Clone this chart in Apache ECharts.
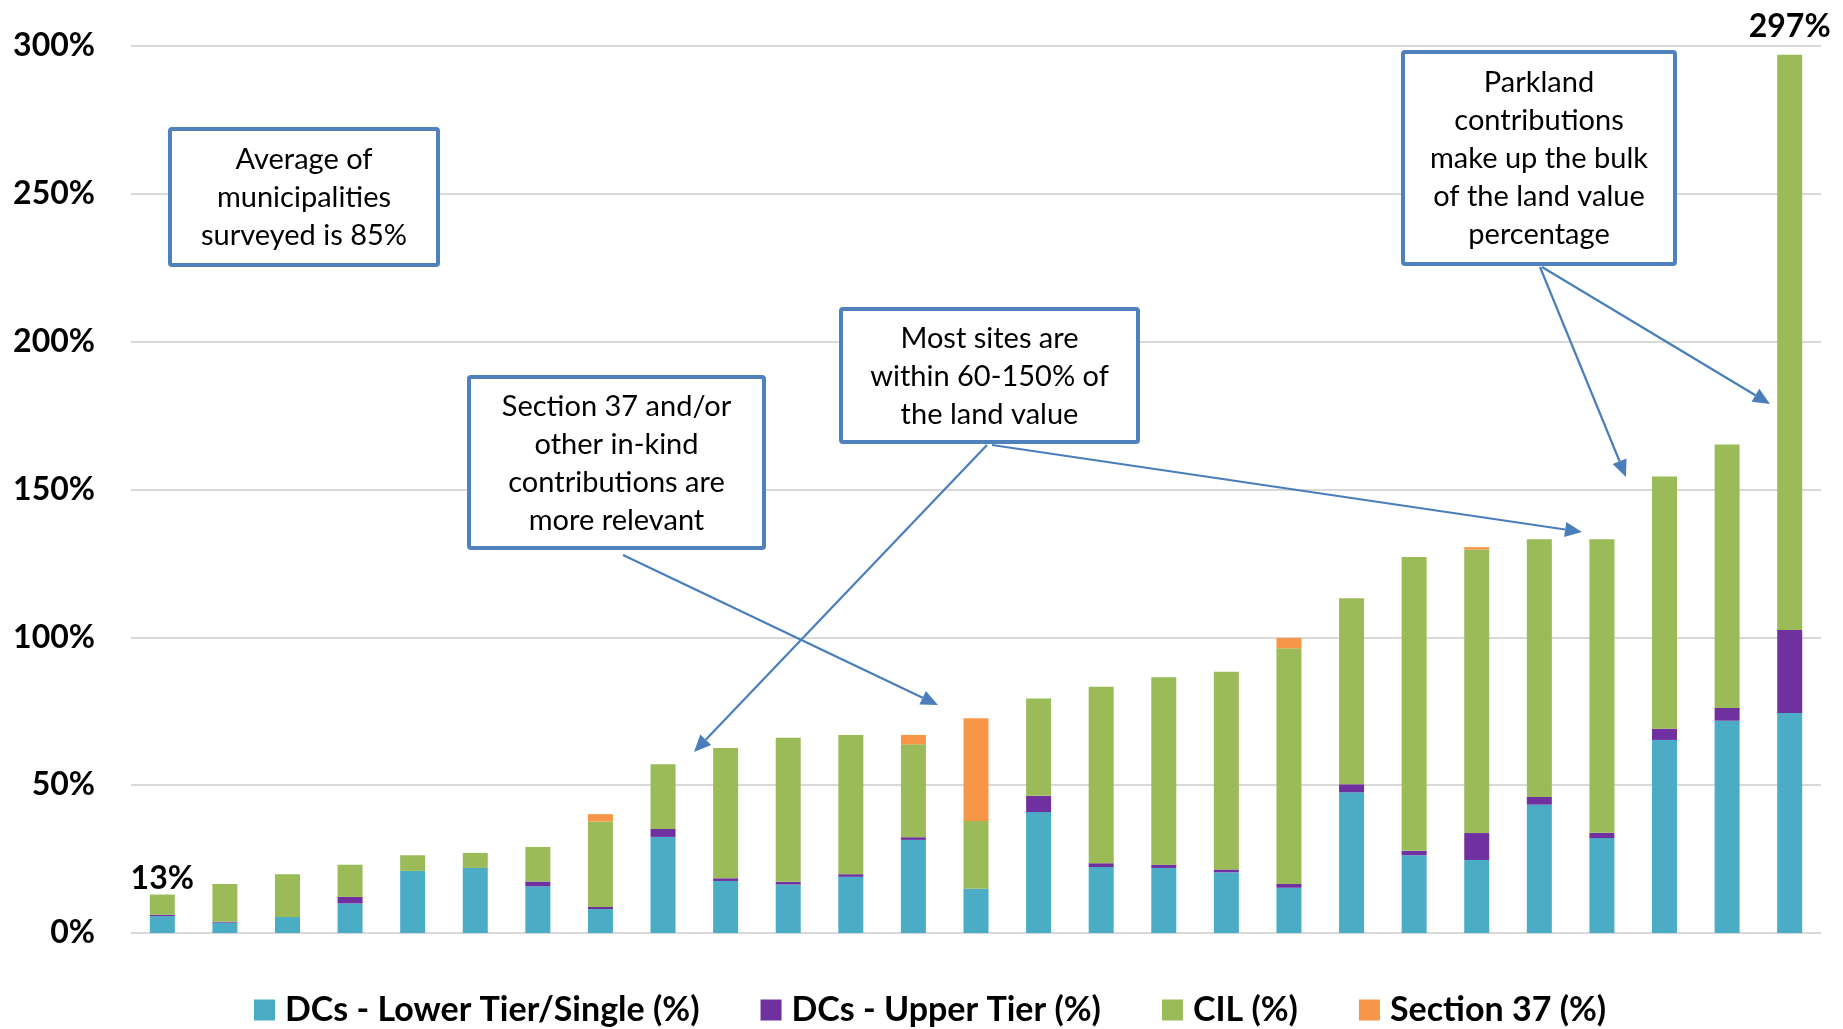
<!DOCTYPE html>
<html>
<head>
<meta charset="utf-8">
<script src="https://cdn.jsdelivr.net/npm/echarts@6/dist/echarts.min.js"></script>
<style>
html, body { margin: 0; padding: 0; background: #fff; }
#chart { width: 1843px; height: 1029px; }
</style>
</head>
<body>
<div id="chart"></div>
<script>
// Sites, sorted by total charges as a share of land value
const sites = ['1','2','3','4','5','6','7','8','9','10','11','12','13','14','15','16','17','18','19','20','21','22','23','24','25','26','27'];

// Component shares of land value (%)
const dcLower   = [5.7, 3.5, 5.4, 10.0, 21.0, 22.0, 15.8, 8.1, 32.5, 17.6, 16.4, 19.0, 31.5, 15.0, 40.9, 22.3, 22.0, 20.5, 15.3, 47.6, 26.3, 24.7, 43.4, 32.1, 65.3, 71.8, 74.4];
const dcUpper   = [0.5, 0.3, 0, 2.2, 0, 0, 1.6, 0.7, 2.7, 0.9, 0.9, 0.9, 0.9, 0, 5.5, 1.3, 1.1, 1.0, 1.3, 2.7, 1.5, 9.1, 2.6, 1.8, 3.8, 4.3, 28.1];
const cil       = [6.8, 12.8, 14.5, 10.9, 5.3, 5.1, 11.7, 28.9, 21.9, 44.1, 48.7, 47.1, 31.4, 22.9, 32.9, 59.7, 63.4, 66.9, 79.7, 62.9, 99.4, 95.9, 87.2, 99.3, 85.3, 89.1, 194.5];
const section37 = [0, 0, 0, 0, 0, 0, 0, 2.5, 0, 0, 0, 0, 3.2, 34.7, 0, 0, 0, 0, 3.5, 0, 0, 0.8, 0, 0, 0, 0, 0];

const seriesNames = ['DCs - Lower Tier/Single (%)', 'DCs - Upper Tier (%)', 'CIL (%)', 'Section 37 (%)'];
const colors = ['#4BACC6', '#7030A0', '#9BBB59', '#F79646'];

// Y axis ticks
const yMin = 0, yMax = 300, yStep = 50;

// Callout boxes: [left, top, width, height, lines]
const callouts = [
  [170, 129, 268, 136, ['Average of', 'municipalities', 'surveyed is 85%']],
  [469, 377, 295, 171, ['Section 37 and/or', 'other in-kind', 'contributions are', 'more relevant']],
  [841, 309, 297, 133, ['Most sites are', 'within 60-150% of', 'the land value']],
  [1403, 52, 272, 212, ['Parkland', 'contributions', 'make up the bulk', 'of the land value', 'percentage']]
];
// Callout arrows: [x1, y1, x2, y2]
const arrows = [
  [623, 555, 938, 705],
  [987, 445, 694, 752],
  [992, 445, 1582, 532],
  [1540, 267, 1626, 477],
  [1542, 267, 1770, 404]
];

const FONT = 'Lato, "Open Sans", sans-serif';
const totals = sites.map((_, i) => dcLower[i] + dcUpper[i] + cil[i] + section37[i]);
// Total labels shown on the first and last sites (value = label distance)
const totalLabelAt = { 0: 0, 26: 12 };

const chart = echarts.init(document.getElementById('chart'), null, { renderer: 'canvas' });

const stackData = [dcLower, dcUpper, cil, section37];
const series = stackData.map((arr, s) => ({
  name: seriesNames[s],
  type: 'bar',
  stack: 'total',
  barWidth: 25,
  itemStyle: { color: colors[s] },
  emphasis: { disabled: true },
  data: arr.map((v, i) => {
    if (s === 2 && (i in totalLabelAt)) {
      return {
        value: v,
        label: {
          show: true,
          position: 'top',
          distance: totalLabelAt[i],
          formatter: () => Math.round(totals[i]) + '%',
          fontFamily: FONT,
          fontWeight: 'bold',
          fontSize: 32,
          color: '#000'
        }
      };
    }
    return v;
  })
}));

const graphics = [];
arrows.forEach(([x1, y1, x2, y2]) => {
  const ang = Math.atan2(y2 - y1, x2 - x1);
  const L = 17, W = 7.5;
  const bx = x2 - L * Math.cos(ang), by = y2 - L * Math.sin(ang);
  graphics.push({
    type: 'line', z: 90,
    shape: { x1: x1, y1: y1, x2: bx, y2: by },
    style: { stroke: '#4A7EBB', lineWidth: 2.2 }
  });
  graphics.push({
    type: 'polygon', z: 90,
    shape: { points: [[x2, y2], [bx + W * Math.sin(ang), by - W * Math.cos(ang)], [bx - W * Math.sin(ang), by + W * Math.cos(ang)]] },
    style: { fill: '#4A7EBB' }
  });
});
callouts.forEach(([x, y, w, h, lines]) => {
  graphics.push({
    type: 'rect', z: 100,
    shape: { x: x, y: y, width: w, height: h, r: 2 },
    style: { fill: '#fff', stroke: '#4F81BD', lineWidth: 4 }
  });
  graphics.push({
    type: 'text', z: 101,
    style: {
      text: lines.join('\n'),
      x: x + w / 2, y: y + h / 2 + 1,
      align: 'center', verticalAlign: 'middle',
      fontFamily: FONT, fontSize: 29, lineHeight: 38,
      fill: '#000'
    }
  });
});

chart.setOption({
  animation: false,
  backgroundColor: '#fff',
  color: colors,
  grid: { left: 131, right: 22, top: 46, bottom: 96, containLabel: false },
  legend: {
    data: seriesNames,
    left: 254, top: 993,
    itemWidth: 21, itemHeight: 21, itemGap: 61,
    icon: 'rect',
    padding: 0,
    textStyle: { fontFamily: FONT, fontWeight: 'bold', fontSize: 34, color: '#000', padding: [0, 0, 0, 5] }
  },
  xAxis: {
    type: 'category',
    data: sites,
    axisLine: { show: false },
    axisTick: { show: false },
    axisLabel: { show: false }
  },
  yAxis: {
    type: 'value',
    min: yMin, max: yMax, interval: yStep,
    axisLine: { show: false },
    axisTick: { show: false },
    axisLabel: {
      formatter: '{value}%',
      fontFamily: FONT, fontWeight: 'bold', fontSize: 32, color: '#000',
      margin: 36
    },
    splitLine: { lineStyle: { color: '#d9d9d9', width: 2 } }
  },
  graphic: graphics,
  series: series
});
</script>
</body>
</html>
